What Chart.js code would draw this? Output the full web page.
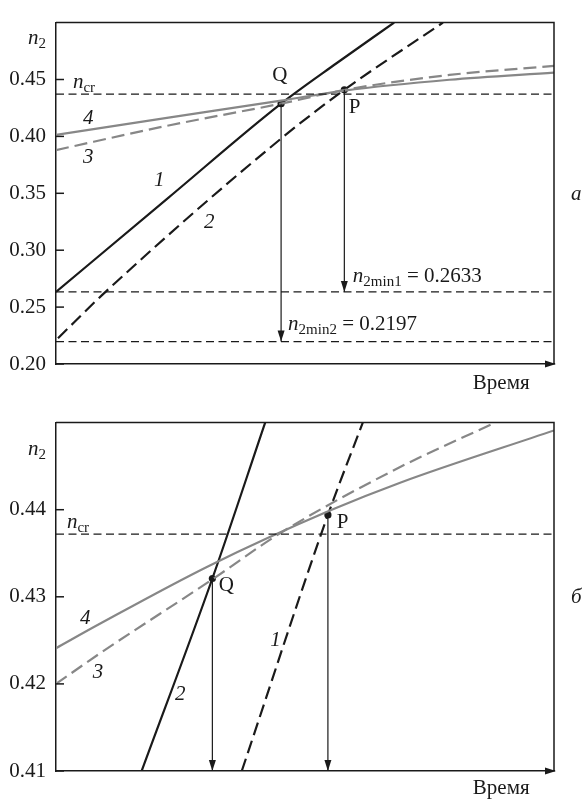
<!DOCTYPE html>
<html>
<head>
<meta charset="utf-8">
<script src="https://cdn.jsdelivr.net/npm/chart.js@4.4.1/dist/chart.umd.min.js"></script>
<style>
  html, body { margin: 0; padding: 0; background: #fff; }
  .panel { position: relative; width: 582px; height: 400px; }
</style>
</head>
<body>
<div class="panel"><canvas id="chartA" width="582" height="400"></canvas></div>
<div class="panel"><canvas id="chartB" width="582" height="400"></canvas></div>
<script>
// levels
const N_CR = 0.4372;
const N2_MIN1 = 0.2633;
const N2_MIN2 = 0.2197;

// panel a (time in arbitrary units 0..100)
const a_t1 = [0, 22.6, 45.2, 56.4, 67.9];
const a_n1 = [0.2633, 0.3462, 0.4288, 0.4645, 0.5000];
const a_t2 = [0.4, 10.0, 45.2, 57.9, 77.7];
const a_n2 = [0.2227, 0.2636, 0.3981, 0.4409, 0.5000];
const a_t3 = [0, 22.6, 45.2, 57.9, 79.0, 100];
const a_n3 = [0.3880, 0.4096, 0.4288, 0.4408, 0.4540, 0.4619];
const a_t4 = [0, 22.6, 45.2, 57.9, 79.0, 100];
const a_n4 = [0.4013, 0.4165, 0.4315, 0.4403, 0.4498, 0.4561];
const a_Q = [45.2, 0.4288];
const a_P = [57.9, 0.4409];

// panel б (zoomed)
const b_t1 = [37.3, 54.6, 61.6];
const b_n1 = [0.4100, 0.4394, 0.4500];
const b_t2 = [17.2, 31.4, 42.0];
const b_n2 = [0.4100, 0.4321, 0.4500];
const b_t3 = [0, 8.8, 31.4, 45.0, 69.1, 88.2];
const b_n3 = [0.4200, 0.4235, 0.4320, 0.4373, 0.4449, 0.4500];
const b_t4 = [0, 8.8, 30.9, 55.0, 69.1, 100];
const b_n4 = [0.4241, 0.4269, 0.4336, 0.4399, 0.4431, 0.4491];
const b_Q = [31.4, 0.4321];
const b_P = [54.6, 0.4394];

const BLACK = '#1a1a1a';
const GRAY = '#878787';
const FONT = '"Liberation Serif", "Times New Roman", serif';

const pts = (t, n) => t.map((x, i) => ({ x: x, y: n[i] }));

function curve(t, n, color, dash) {
  return {
    data: pts(t, n), borderColor: color, borderWidth: 2.2, borderDash: dash,
    pointRadius: 0, cubicInterpolationMode: 'monotone', fill: false
  };
}
function hline(v) {
  return {
    data: [{ x: 0, y: v }, { x: 100, y: v }], borderColor: BLACK, borderWidth: 1.3,
    borderDash: [8, 4.5], pointRadius: 0, fill: false
  };
}
function vline(p, to) {
  return {
    data: [{ x: p[0], y: p[1] }, { x: p[0], y: to }], borderColor: BLACK, borderWidth: 1.2,
    pointRadius: 0, fill: false
  };
}

function drawRich(ctx, parts, x, y) {
  let cx = x;
  parts.forEach(p => {
    const size = p.sub ? 15 : 21;
    ctx.font = (p.it ? 'italic ' : '') + size + 'px ' + FONT;
    ctx.fillText(p.t, cx, y + (p.sub ? 4 : 0));
    cx += ctx.measureText(p.t).width;
  });
}

// frame, inward ticks, arrow heads and text
const decor = {
  id: 'decor',
  afterDraw(chart, args, opts) {
    const ctx = chart.ctx;
    const area = chart.chartArea;
    const xs = chart.scales.x, ys = chart.scales.y;
    ctx.save();
    ctx.strokeStyle = BLACK;
    ctx.fillStyle = BLACK;
    ctx.lineWidth = 1.5;
    ctx.beginPath();
    ctx.moveTo(area.left, area.top);
    ctx.lineTo(area.right, area.top);
    ctx.lineTo(area.right, area.bottom);
    ctx.stroke();
    // x axis arrow
    ctx.beginPath();
    ctx.moveTo(area.right + 2, area.bottom);
    ctx.lineTo(area.right - 9, area.bottom - 3.5);
    ctx.lineTo(area.right - 9, area.bottom + 3.5);
    ctx.closePath();
    ctx.fill();
    // inward ticks
    ys.ticks.forEach(tk => {
      if (tk.value >= ys.max - 1e-9) return;
      const py = ys.getPixelForValue(tk.value);
      ctx.beginPath();
      ctx.moveTo(area.left, py);
      ctx.lineTo(area.left + 8, py);
      ctx.stroke();
    });
    // arrow heads of vertical lines
    opts.arrows.forEach(a => {
      const px = xs.getPixelForValue(a[0]);
      const py = ys.getPixelForValue(a[2]);
      ctx.beginPath();
      ctx.moveTo(px, py);
      ctx.lineTo(px - 3.5, py - 11);
      ctx.lineTo(px + 3.5, py - 11);
      ctx.closePath();
      ctx.fill();
    });
    ctx.textAlign = 'left';
    ctx.textBaseline = 'alphabetic';
    opts.labels.forEach(l => {
      drawRich(ctx, l.parts, xs.getPixelForValue(l.x), ys.getPixelForValue(l.y));
    });
    ctx.restore();
  }
};

function makePanel(id, p) {
  const datasets = [
    hline(N_CR)
  ].concat(p.hlines.map(hline), p.arrows.map(a => vline([a[0], a[1]], a[2])), p.curves, [{
    data: p.marks.map(m => ({ x: m[0], y: m[1] })), showLine: false,
    pointRadius: 3.6, pointBackgroundColor: BLACK, pointBorderWidth: 0
  }]);
  return new Chart(document.getElementById(id), {
    type: 'line',
    data: { datasets: datasets },
    plugins: [decor],
    options: {
      responsive: false,
      animation: false,
      layout: { padding: { top: p.top, right: 28, left: 0, bottom: 0 } },
      plugins: {
        legend: { display: false },
        tooltip: { enabled: false },
        decor: { arrows: p.arrows, labels: p.labels }
      },
      scales: {
        x: {
          type: 'linear', min: 0, max: 100,
          ticks: { display: false },
          grid: { display: false, drawTicks: false },
          border: { display: true, color: BLACK, width: 1.5 },
          afterFit: s => { s.height = p.xh; }
        },
        y: {
          min: p.min, max: p.max,
          ticks: {
            stepSize: p.step, padding: 10, color: BLACK,
            font: { family: FONT, size: 21 },
            callback: v => (v >= p.max - 1e-9 ? '' : v.toFixed(2))
          },
          grid: { display: false, drawTicks: false },
          border: { display: true, color: BLACK, width: 1.5 },
          afterFit: s => { s.width = 56; }
        }
      }
    }
  });
}

const N2 = [{ t: 'n', it: true }, { t: '2', sub: true }];
const NCR = [{ t: 'n', it: true }, { t: 'cr', sub: true }];
const it = s => [{ t: s, it: true }];
const up = s => [{ t: s }];

makePanel('chartA', {
  min: 0.2, max: 0.5, step: 0.05, top: 7, xh: 36,
  hlines: [N2_MIN1, N2_MIN2],
  curves: [
    curve(a_t4, a_n4, GRAY, []),
    curve(a_t3, a_n3, GRAY, [13, 6]),
    curve(a_t1, a_n1, BLACK, []),
    curve(a_t2, a_n2, BLACK, [13, 6])
  ],
  marks: [a_Q, a_P],
  arrows: [[a_Q[0], a_Q[1], N2_MIN2], [a_P[0], a_P[1], N2_MIN1]],
  labels: [
    { x: -5.6, y: 0.4811, parts: N2 },
    { x: 3.4, y: 0.4429, parts: NCR },
    { x: 43.4, y: 0.4483, parts: up('Q') },
    { x: 58.8, y: 0.4204, parts: up('P') },
    { x: 5.4, y: 0.4109, parts: it('4') },
    { x: 5.4, y: 0.3765, parts: it('3') },
    { x: 19.7, y: 0.3563, parts: it('1') },
    { x: 29.7, y: 0.3193, parts: it('2') },
    { x: 59.6, y: 0.2723, parts: [{ t: 'n', it: true }, { t: '2min1', sub: true }, { t: ' = ' + N2_MIN1.toFixed(4) }] },
    { x: 46.6, y: 0.2298, parts: [{ t: 'n', it: true }, { t: '2min2', sub: true }, { t: ' = ' + N2_MIN2.toFixed(4) }] },
    { x: 83.7, y: 0.1782, parts: up('Время') },
    { x: 103.4, y: 0.3437, parts: it('а') }
  ]
});

makePanel('chartB', {
  min: 0.41, max: 0.45, step: 0.01, top: 13, xh: 29,
  hlines: [],
  curves: [
    curve(b_t4, b_n4, GRAY, []),
    curve(b_t3, b_n3, GRAY, [13, 6]),
    curve(b_t2, b_n2, BLACK, []),
    curve(b_t1, b_n1, BLACK, [13, 6])
  ],
  marks: [b_Q, b_P],
  arrows: [[b_Q[0], b_Q[1], 0.41], [b_P[0], b_P[1], 0.41]],
  labels: [
    { x: -5.6, y: 0.44623, parts: N2 },
    { x: 2.2, y: 0.43785, parts: NCR },
    { x: 32.7, y: 0.43067, parts: up('Q') },
    { x: 56.4, y: 0.43788, parts: up('P') },
    { x: 43.0, y: 0.4243, parts: it('1') },
    { x: 23.9, y: 0.41816, parts: it('2') },
    { x: 4.8, y: 0.42687, parts: it('4') },
    { x: 7.4, y: 0.42073, parts: it('3') },
    { x: 83.7, y: 0.40732, parts: up('Время') },
    { x: 103.4, y: 0.42933, parts: it('б') }
  ]
});
</script>
</body>
</html>
